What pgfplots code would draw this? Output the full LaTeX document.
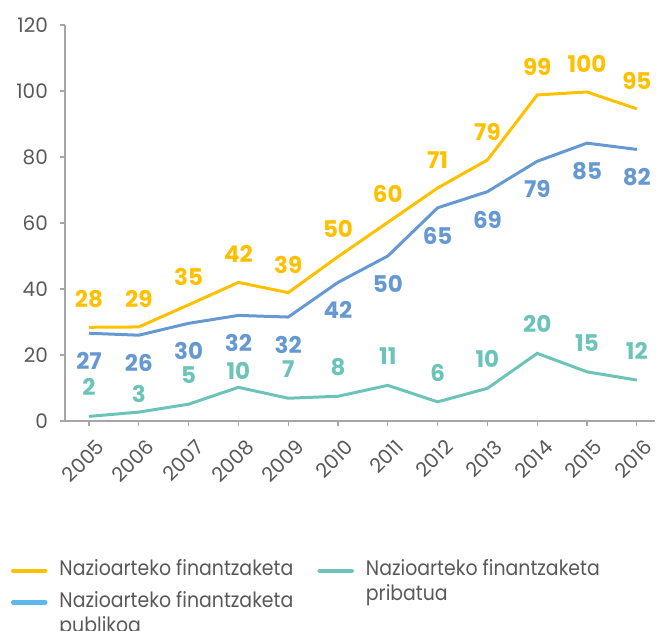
\documentclass[border=0pt]{standalone}
\usepackage{fontspec}
\setmainfont{Poppins}
\newfontfamily\legfont[FakeStretch=0.9]{Poppins}
\usepackage{pgfplots}
\pgfplotsset{compat=1.18}
\definecolor{cY}{HTML}{FFC000}
\definecolor{cB}{HTML}{6699D1}
\definecolor{cBL}{HTML}{5DB6EC}
\definecolor{cT}{HTML}{6CC4B9}
\definecolor{cG}{HTML}{595959}
\definecolor{cA}{HTML}{A6A6A6}
\begin{document}
\begin{tikzpicture}
\path[use as bounding box] (-65pt,-209pt) rectangle (593pt,421pt);
\begin{axis}[
  at={(0,0)}, anchor=south west,
  scale only axis, width=590pt, height=396pt,
  xmin=2004.518, xmax=2016.365, ymin=0, ymax=120,
  axis lines=left, axis line style={cA, line width=1.3pt, -},
  xtick={2005,...,2016}, ytick={0,20,...,120},
  tick style={cA, line width=1.2pt}, tick align=outside, major tick length=5pt,
  /pgf/number format/assume math mode=true,
  /pgf/number format/1000 sep={},
  x tick label style={rotate=45, anchor=north east, inner sep=0pt, xshift=-4pt, yshift=-13pt, font=\fontsize{20}{22}\selectfont, text=cG},
  y tick label style={font=\fontsize{20}{22}\selectfont, text=cG, inner sep=0pt, xshift=-12pt},
  point meta=explicit symbolic,
  nodes near coords,
  legend style={at={(axis description cs:-0.097,-0.34)}, anchor=north west, draw=none, fill=none,
    font=\legfont\fontsize{21}{25}\selectfont, text=cG,
    cells={anchor=base west, align=left}, column sep=10pt, row sep=10pt,
    /tikz/every even column/.append style={column sep=6pt}},
  legend columns=2,
  legend image code/.code={\draw[#1, line width=4.5pt, line cap=round] (0pt,5pt) -- (32pt,5pt);},
]
\addplot[cY, line width=3pt, forget plot,
  every node near coord/.append style={anchor=center, yshift=28pt, font=\bfseries\fontsize{23}{24}\selectfont, text=cY}]
  coordinates {(2005,28.4)[28] (2006,28.5)[29] (2007,35.2)[35] (2008,42.0)[42] (2009,38.9)[39] (2010,49.8)[50]
  (2011,60.2)[60] (2012,70.6)[71] (2013,79.1)[79] (2014,98.8)[99] (2015,99.7)[100] (2016,94.6)[95]};
\addplot[cB, line width=3pt, forget plot,
  every node near coord/.append style={anchor=center, yshift=-28pt, font=\bfseries\fontsize{23}{24}\selectfont, text=cB}]
  coordinates {(2005,26.6)[27] (2006,26.0)[26] (2007,29.6)[30] (2008,32.0)[32] (2009,31.5)[32] (2010,42.0)[42]
  (2011,50.0)[50] (2012,64.6)[65] (2013,69.5)[69] (2014,78.7)[79] (2015,84.2)[85] (2016,82.3)[82]};
\addplot[cT, line width=3pt, forget plot,
  every node near coord/.append style={anchor=center, yshift=29pt, font=\bfseries\fontsize{23}{24}\selectfont, text=cT}]
  coordinates {(2005,1.4)[2] (2006,2.7)[] (2007,5.1)[5] (2008,10.2)[] (2009,6.9)[7] (2010,7.5)[8]
  (2011,10.8)[11] (2012,5.8)[6] (2013,9.9)[10] (2014,20.5)[20] (2015,14.9)[15] (2016,12.4)[12]};
\addplot[draw=none, forget plot,
  every node near coord/.append style={anchor=center, yshift=18pt, font=\bfseries\fontsize{23}{24}\selectfont, text=cT}]
  coordinates {(2006,2.7)[3]};
\addplot[draw=none, forget plot,
  every node near coord/.append style={anchor=center, yshift=16pt, font=\bfseries\fontsize{23}{24}\selectfont, text=cT}]
  coordinates {(2008,10.2)[10]};
\addlegendimage{cY}
\addlegendentry{Nazioarteko finantzaketa}
\addlegendimage{cT}
\addlegendentry{\raisebox{0pt}[\height][0pt]{\parbox[t]{250pt}{Nazioarteko finantzaketa\\pribatua}}}
\addlegendimage{cBL}
\addlegendentry{\raisebox{0pt}[\height][0pt]{\parbox[t]{250pt}{Nazioarteko finantzaketa\\publikoa}}}
\end{axis}
\end{tikzpicture}
\end{document}
